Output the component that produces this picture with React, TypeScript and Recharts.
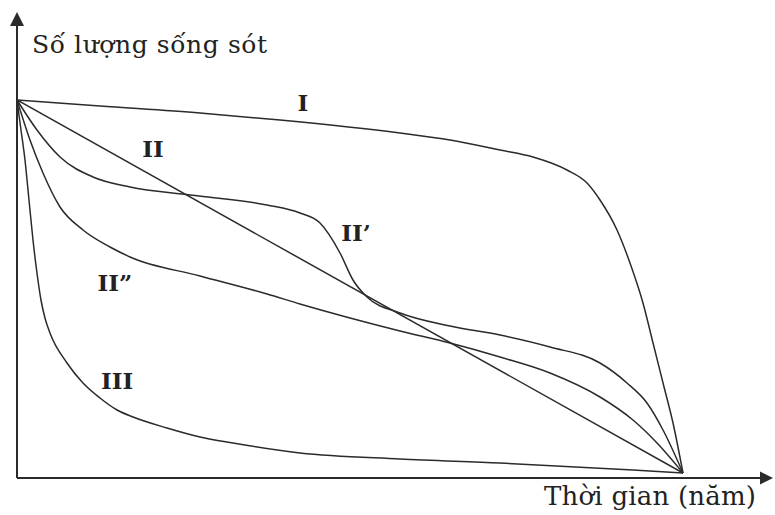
import { LineChart, Line, XAxis, YAxis, ReferenceDot } from 'recharts'

// survivorship curves, time in % of max lifespan, survivors in % of initial
const curveI = [
  { x: 0, y: 100 }, { x: 12.46, y: 98.41 }, { x: 27.48, y: 96.56 }, { x: 39.49, y: 94.71 },
  { x: 57.51, y: 91.27 }, { x: 65.02, y: 89.42 }, { x: 72.52, y: 86.77 }, { x: 77.48, y: 84.92 },
  { x: 82.58, y: 81.48 }, { x: 85.59, y: 78.04 }, { x: 87.54, y: 73.54 }, { x: 90.09, y: 65.61 },
  { x: 92.04, y: 56.88 }, { x: 93.99, y: 46.3 }, { x: 95.5, y: 35.71 }, { x: 97.0, y: 25.13 },
  { x: 98.5, y: 14.55 }, { x: 100, y: 1.32 },
]

const curveII = [{ x: 0, y: 100 }, { x: 100, y: 1.32 }]

const curveII1 = [
  { x: 0, y: 100 }, { x: 3.0, y: 92.06 }, { x: 6.46, y: 84.92 }, { x: 11.41, y: 79.63 },
  { x: 16.97, y: 76.98 }, { x: 25.98, y: 74.87 }, { x: 37.54, y: 72.22 }, { x: 42.49, y: 70.11 },
  { x: 45.5, y: 67.46 }, { x: 48.5, y: 59.52 }, { x: 50.45, y: 52.38 }, { x: 52.55, y: 47.88 },
  { x: 57.51, y: 43.65 }, { x: 65.02, y: 40.21 }, { x: 72.52, y: 37.83 }, { x: 80.03, y: 34.66 },
  { x: 87.54, y: 30.42 }, { x: 91.59, y: 25.13 }, { x: 94.59, y: 19.84 }, { x: 97.0, y: 12.7 },
  { x: 100, y: 1.32 },
]

const curveII2 = [
  { x: 0, y: 100 }, { x: 1.95, y: 89.42 }, { x: 3.9, y: 80.69 }, { x: 6.46, y: 71.69 },
  { x: 9.91, y: 65.61 }, { x: 13.96, y: 61.11 }, { x: 16.97, y: 58.47 }, { x: 27.48, y: 53.44 },
  { x: 37.54, y: 48.68 }, { x: 42.49, y: 46.03 }, { x: 50.0, y: 42.33 }, { x: 57.51, y: 38.89 },
  { x: 65.02, y: 35.71 }, { x: 72.52, y: 32.01 }, { x: 80.03, y: 27.78 }, { x: 87.54, y: 21.43 },
  { x: 92.49, y: 15.34 }, { x: 96.1, y: 9.26 }, { x: 100, y: 1.32 },
]

const curveIII = [
  { x: 0, y: 100 }, { x: 0.6, y: 92.06 }, { x: 1.2, y: 84.13 }, { x: 1.8, y: 73.54 },
  { x: 2.4, y: 62.96 }, { x: 3.0, y: 54.23 }, { x: 3.6, y: 47.09 }, { x: 4.2, y: 42.33 },
  { x: 4.95, y: 38.36 }, { x: 7.51, y: 30.42 }, { x: 9.91, y: 25.13 }, { x: 12.46, y: 21.16 },
  { x: 15.02, y: 17.99 }, { x: 17.42, y: 16.14 }, { x: 22.52, y: 13.23 }, { x: 27.48, y: 10.85 },
  { x: 32.43, y: 9.26 }, { x: 42.49, y: 6.61 }, { x: 57.51, y: 5.03 }, { x: 72.52, y: 3.97 },
  { x: 92.49, y: 2.12 }, { x: 100, y: 1.32 },
]

const curves = [curveI, curveII, curveII1, curveII2, curveIII]

const curveLabels = [
  { name: 'I', x: 42.94, y: 99.21 },
  { name: 'II', x: 20.42, y: 86.99 },
  { name: 'II’', x: 50.9, y: 64.81 },
  { name: 'II”', x: 14.71, y: 51.59 },
  { name: 'III', x: 15.02, y: 25.66 },
]

const yTitle = 'Số lượng sống sót'
const xTitle = 'Thời gian (năm)'

const ink = '#2b2b2b'
const font = '"DejaVu Serif", serif'

export default function App() {
  return (
    <div style={{ position: 'absolute', left: 0, top: 0, width: 775, height: 515, background: '#fff' }}>
      <LineChart width={775} height={515} margin={{ top: 24.4, right: 12.08, left: 16, bottom: 36 }}>
        <XAxis dataKey="x" type="number" domain={[0, 112]} height={1} tick={false} tickLine={false}
          axisLine={{ stroke: ink, strokeWidth: 2 }} allowDataOverflow />
        <YAxis dataKey="y" type="number" domain={[0, 120]} width={1} tick={false} tickLine={false}
          axisLine={{ stroke: ink, strokeWidth: 2 }} allowDataOverflow />
        {curves.map((c, i) => (
          <Line key={i} data={c} dataKey="y" type={c.length > 2 ? 'monotone' : 'linear'} stroke={ink}
            strokeWidth={1.5} dot={false} activeDot={false} isAnimationActive={false} />
        ))}
        {curveLabels.map(l => (
          <ReferenceDot key={l.name} x={l.x} y={l.y} r={0} stroke="none" fill="none"
            label={{ value: l.name, position: 'center', fill: '#222', fontSize: 23, fontWeight: 'bold', fontFamily: font }} />
        ))}
      </LineChart>
      <svg width={775} height={515} style={{ position: 'absolute', left: 0, top: 0, pointerEvents: 'none' }}>
        <polygon points="17,12 10,26 24,26" fill={ink} />
        <polygon points="773,478 760,471.5 760,484.5" fill={ink} />
        <text x={32} y={53} fontFamily={font} fontSize={25} fill="#222" textLength={235} lengthAdjust="spacing">{yTitle}</text>
        <text x={544} y={505} fontFamily={font} fontSize={26} fill="#222" textLength={212} lengthAdjust="spacing">{xTitle}</text>
      </svg>
    </div>
  )
}
